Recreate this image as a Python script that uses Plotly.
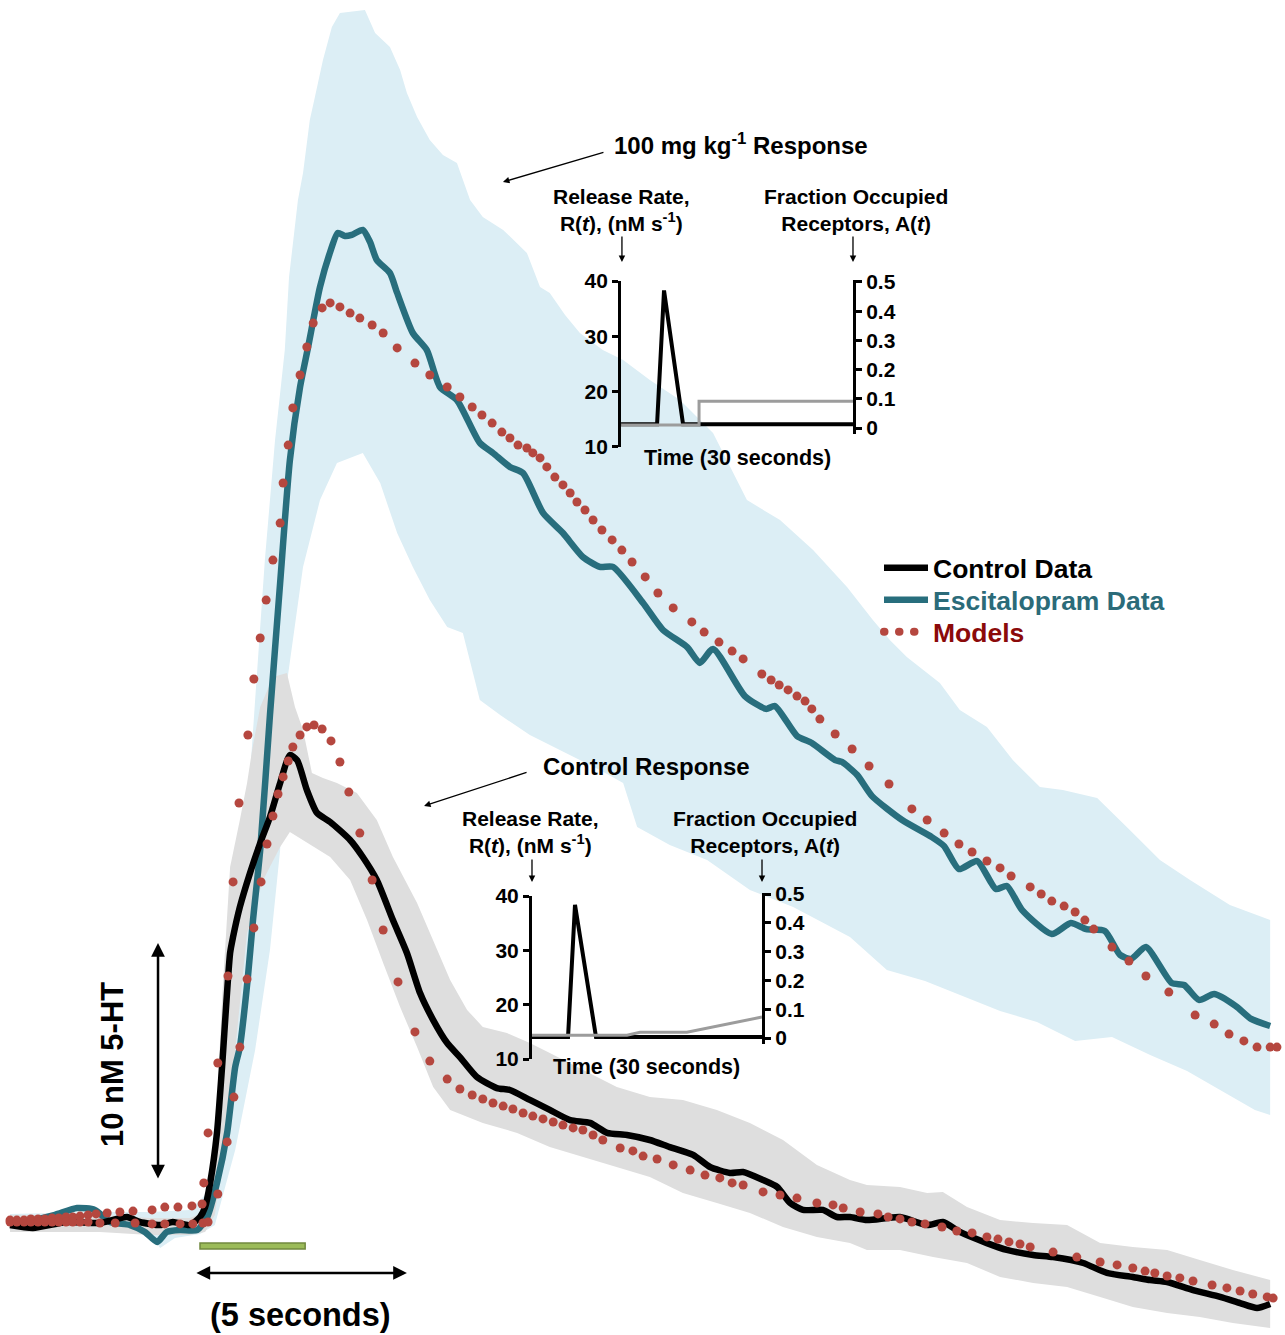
import plotly.graph_objects as go

# ---------------- main traces (time in s, concentration in nM) ----------------
ctrl_t = [-4.48, -3.94, -3.14, -2.36, -1.72, -1.42, -0.94, -0.64, -0.24, 0.00, 0.12, 0.24, 0.40, 0.52, 0.71, 0.78,
          0.94, 1.18, 1.42, 1.65, 1.89, 2.12, 2.29, 2.52, 2.76, 3.07, 3.54, 3.84, 4.17, 4.55, 4.88, 5.19, 5.50,
          5.83, 6.13, 6.53, 7.00, 7.31, 7.78, 8.25, 8.73, 9.20, 9.60, 10.07, 10.61, 11.08, 11.63, 12.03, 12.50,
          12.81, 13.28, 13.61, 13.92, 14.22, 14.69, 15.02, 15.33, 15.73, 16.51, 17.15, 17.52, 17.92, 18.56,
          19.03, 19.65, 20.12, 20.83, 21.39, 22.00, 22.41, 22.81, 23.42, 24.06, 24.53, 24.93, 25.24]
ctrl_c = [-0.13, -0.25, 0.00, -0.04, 0.21, 0.00, -0.13, 0.00, -0.13, 0.21, 0.63, 1.65, 3.76, 6.54, 11.35, 12.03,
          13.29, 14.73, 15.99, 17.09, 18.52, 19.70, 19.49, 18.23, 17.26, 16.88, 16.12, 15.40, 14.43, 12.74, 11.35,
          9.66, 8.52, 7.55, 6.96, 6.12, 5.65, 5.57, 5.15, 4.73, 4.30, 4.18, 3.76, 3.67, 3.46, 3.16, 2.83, 2.32,
          2.07, 2.11, 1.77, 1.48, 0.80, 0.51, 0.51, 0.21, 0.21, 0.08, 0.21, -0.13, 0.00, -0.42, -0.89, -1.18,
          -1.39, -1.48, -1.73, -2.15, -2.32, -2.45, -2.53, -2.87, -3.16, -3.42, -3.63, -3.46]

esc_t = [-4.48, -3.94, -3.42, -2.90, -2.48, -2.12, -1.65, -1.30, -1.01, -0.78, -0.47, -0.07, 0.17, 0.40, 0.64,
         0.83, 0.94, 1.13, 1.25, 1.42, 1.65, 1.89, 2.12, 2.36, 2.55, 2.83, 3.07, 3.25, 3.42, 3.58, 3.84, 4.01,
         4.17, 4.48, 4.65, 5.02, 5.35, 5.66, 6.06, 6.60, 6.91, 7.31, 7.62, 8.09, 8.56, 9.03, 9.43, 9.74, 10.45,
         10.92, 11.49, 11.79, 12.10, 12.85, 13.35, 13.56, 14.08, 14.43, 14.98, 15.14, 15.50, 15.85, 16.56, 17.26,
         17.55, 17.90, 18.33, 18.77, 19.03, 19.39, 20.09, 20.54, 20.90, 21.34, 21.70, 21.96, 22.31, 22.92, 23.21,
         23.56, 23.92, 24.43, 24.79, 25.24]
esc_c = [0.00, 0.08, 0.30, 0.59, 0.51, 0.00, -0.13, -0.42, -0.84, -0.42, -0.34, -0.34, 0.21, 1.65, 3.76, 6.54,
         7.38, 10.34, 12.74, 15.70, 21.39, 26.96, 32.15, 35.23, 36.92, 39.45, 40.93, 41.73, 41.60, 41.65, 41.86,
         41.35, 40.59, 40.04, 39.20, 37.51, 36.79, 35.23, 34.68, 32.87, 32.45, 31.86, 31.60, 29.92, 29.07, 28.06,
         27.64, 27.64, 26.12, 24.98, 24.26, 23.59, 24.18, 22.19, 21.65, 21.77, 20.51, 20.21, 19.49, 19.41, 18.86,
         17.97, 16.96, 16.24, 15.86, 14.89, 15.23, 14.05, 14.18, 13.16, 12.15, 12.62, 12.36, 12.28, 11.27, 11.10,
         11.60, 10.08, 10.00, 9.37, 9.62, 9.11, 8.57, 8.27]

esc_model_t = [-4.48, -4.32, -4.15, -3.99, -3.82, -3.66, -3.49, -3.33, -3.16, -3.00, -2.83, -2.64, -2.45, -2.19,
               -1.89, -1.58, -1.13, -0.83, -0.52, -0.19, 0.05, 0.09, 0.19, 0.42, 0.66, 0.78, 0.92, 1.13, 1.27,
               1.42, 1.56, 1.72, 1.89, 1.96, 2.08, 2.19, 2.36, 2.52, 2.67, 2.88, 3.07, 3.30, 3.54, 3.77, 4.06,
               4.32, 4.65, 5.07, 5.42, 5.83, 6.13, 6.42, 6.65, 6.89, 7.12, 7.31, 7.50, 7.71, 7.85, 8.02, 8.18,
               8.37, 8.56, 8.73, 8.89, 9.08, 9.27, 9.48, 9.72, 9.95, 10.19, 10.50, 10.80, 11.16, 11.60, 11.89,
               12.24, 12.55, 12.81, 13.25, 13.47, 13.66, 13.87, 14.08, 14.27, 14.43, 14.62, 14.98, 15.38, 15.78,
               16.25, 16.79, 17.15, 17.55, 17.90, 18.21, 18.56, 18.87, 19.13, 19.58, 19.84, 20.09, 20.38, 20.64,
               20.87, 21.08, 21.51, 21.91, 22.31, 22.85, 23.47, 23.92, 24.27, 24.62, 24.93, 25.24, 25.40]
esc_model_c = [0.08, 0.08, 0.08, 0.13, 0.13, 0.13, 0.17, 0.17, 0.21, 0.21, 0.25, 0.30, 0.34, 0.38, 0.42, 0.46,
               0.51, 0.63, 0.63, 0.68, 0.76, 1.65, 3.76, 6.71, 10.38, 14.35, 17.68, 20.55, 22.91, 24.64, 26.24,
               27.93, 29.49, 31.18, 32.78, 34.35, 35.74, 36.92, 37.93, 38.57, 38.78, 38.61, 38.35, 38.14, 37.85,
               37.51, 36.88, 36.24, 35.74, 35.23, 34.81, 34.39, 34.05, 33.71, 33.33, 33.08, 32.78, 32.66, 32.45,
               32.24, 31.86, 31.43, 31.10, 30.76, 30.38, 30.04, 29.62, 29.20, 28.78, 28.35, 27.85, 27.22, 26.54,
               25.91, 25.32, 24.89, 24.47, 24.09, 23.76, 23.12, 22.87, 22.66, 22.45, 22.19, 21.98, 21.65, 21.22,
               20.59, 19.96, 19.24, 18.48, 17.43, 16.96, 16.41, 15.95, 15.61, 15.23, 14.94, 14.60, 14.14, 13.84,
               13.54, 13.33, 13.08, 12.74, 12.36, 11.60, 11.01, 10.38, 9.70, 8.73, 8.35, 7.93, 7.64, 7.38, 7.38,
               7.38]

ctrl_model_t = [-4.48, -4.32, -4.15, -3.99, -3.82, -3.66, -3.49, -3.33, -3.16, -3.00, -2.83, -2.64, -2.36, -2.00,
                -1.53, -1.13, -0.83, -0.47, -0.17, 0.07, 0.19, 0.42, 0.64, 0.80, 0.94, 1.11, 1.27, 1.44, 1.58,
                1.72, 1.84, 1.96, 2.08, 2.19, 2.36, 2.52, 2.69, 2.88, 3.09, 3.30, 3.51, 3.77, 4.06, 4.32, 4.67,
                5.07, 5.42, 5.83, 6.13, 6.42, 6.67, 6.91, 7.15, 7.38, 7.62, 7.85, 8.09, 8.33, 8.56, 8.80, 9.03,
                9.27, 9.50, 9.91, 10.21, 10.45, 10.78, 11.16, 11.56, 11.91, 12.26, 12.55, 12.81, 13.28, 13.68,
                14.08, 14.55, 14.93, 15.17, 15.57, 15.99, 16.23, 16.51, 16.79, 17.10, 17.50, 17.85, 18.21, 18.56,
                18.82, 19.08, 19.34, 19.58, 20.12, 20.68, 21.23, 21.63, 22.00, 22.29, 22.52, 22.81, 23.11, 23.42,
                23.87, 24.22, 24.53, 24.83, 25.17, 25.31]
ctrl_model_c = [0.00, 0.00, 0.00, 0.00, 0.00, 0.00, 0.00, 0.00, 0.00, 0.00, 0.00, 0.00, -0.04, -0.04, -0.04,
                -0.08, -0.08, -0.08, -0.08, -0.04, 0.00, 1.18, 3.38, 5.27, 7.38, 10.25, 12.41, 14.35, 15.95, 17.13,
                18.06, 18.78, 19.45, 20.04, 20.55, 20.89, 20.97, 20.80, 20.30, 19.41, 18.14, 16.41, 14.43, 12.32,
                10.13, 8.02, 6.79, 6.03, 5.61, 5.36, 5.19, 5.02, 4.89, 4.77, 4.60, 4.47, 4.35, 4.22, 4.09, 3.97,
                3.88, 3.67, 3.46, 3.12, 3.00, 2.78, 2.66, 2.41, 2.19, 1.98, 1.86, 1.65, 1.56, 1.27, 1.14, 1.01,
                0.80, 0.72, 0.59, 0.42, 0.34, 0.21, 0.13, 0.00, -0.08, -0.21, -0.38, -0.46, -0.63, -0.72, -0.84,
                -0.93, -1.05, -1.27, -1.48, -1.69, -1.81, -1.94, -2.07, -2.15, -2.28, -2.36, -2.49, -2.66, -2.78,
                -2.91, -3.04, -3.16, -3.21]

# ---------------- variability bands ----------------
esc_hi_t = [-4.48, -2.36, -1.18, -0.24, 0.24, 0.59, 0.83, 1.06, 1.30, 1.53, 1.77, 2.00, 2.10, 2.31, 2.43, 2.59,
            2.71, 2.90, 3.11, 3.30, 3.89, 4.13, 4.48, 4.72, 4.88, 5.12, 5.42, 5.73, 6.06, 6.37, 6.67, 7.15, 7.71,
            8.02, 8.25, 8.61, 8.96, 9.50, 9.98, 10.61, 11.32, 12.10, 12.90, 13.68, 14.46, 15.26, 15.87, 16.27,
            16.67, 17.45, 17.92, 18.56, 19.17, 19.81, 20.35, 21.16, 21.93, 22.64, 23.35, 24.29, 25.24]
esc_hi_c = [0.34, 0.42, 0.42, 0.51, 1.35, 5.15, 11.48, 15.70, 22.03, 27.93, 33.00, 36.79, 39.87, 43.12, 44.26,
            46.50, 47.47, 49.03, 50.42, 51.01, 51.14, 50.17, 49.58, 48.61, 47.64, 46.62, 45.65, 45.02, 44.68,
            43.12, 42.41, 41.86, 40.89, 39.45, 39.20, 38.27, 37.51, 36.79, 36.37, 35.53, 34.68, 33.29, 30.46,
            29.62, 28.35, 26.79, 25.40, 24.56, 23.84, 22.74, 21.60, 20.89, 19.49, 18.35, 18.23, 17.89, 16.54,
            15.27, 14.43, 13.38, 12.74]
esc_lo_t = [-4.48, -2.36, -1.18, -0.94, -0.59, 0.00, 0.35, 0.83, 1.30, 1.65, 1.89, 2.00, 2.05, 2.43, 2.83, 3.23,
            3.84, 4.25, 4.65, 5.02, 5.42, 5.83, 6.20, 6.60, 7.08, 7.78, 8.49, 9.43, 9.98, 10.31, 11.08, 11.96,
            12.97, 13.99, 15.33, 16.20, 17.10, 17.97, 18.87, 19.74, 20.64, 21.51, 22.41, 23.28, 24.06, 24.88, 25.24]
esc_lo_c = [-0.25, -0.34, -0.55, -1.10, -0.68, -0.51, -0.13, 3.04, 7.26, 11.48, 15.70, 19.92, 22.74, 27.64, 30.46,
            32.03, 32.45, 31.18, 29.07, 27.64, 26.24, 25.11, 24.85, 22.03, 21.39, 20.55, 19.92, 19.07, 18.52, 16.67,
            15.91, 15.27, 14.01, 13.29, 12.03, 10.63, 10.17, 9.54, 8.90, 8.44, 7.64, 7.81, 7.05, 6.37, 5.57, 4.73,
            4.51]

ctrl_hi_t = [-4.48, -2.36, -1.18, -0.24, 0.12, 0.35, 0.52, 0.71, 0.94, 1.11, 1.23, 1.42, 1.72, 2.05, 2.24, 2.43,
             2.64, 2.90, 3.23, 3.70, 4.17, 4.55, 5.12, 5.50, 5.90, 6.30, 6.67, 7.24, 7.78, 8.25, 9.03, 9.83, 10.61,
             11.39, 12.19, 12.97, 13.75, 14.55, 15.33, 15.73, 16.51, 17.15, 17.52, 18.09, 18.87, 19.65, 20.45,
             21.23, 22.00, 22.81, 23.58, 24.36, 25.24]
ctrl_hi_c = [0.30, 0.30, 0.17, 0.17, 0.42, 3.04, 9.37, 14.98, 16.96, 18.52, 19.92, 21.73, 23.00, 23.16, 21.73,
             20.76, 18.95, 18.73, 18.52, 18.10, 16.96, 15.40, 13.46, 11.90, 10.21, 8.95, 8.23, 7.97, 7.55, 7.13,
             6.41, 5.70, 5.27, 5.15, 4.73, 4.18, 3.46, 2.41, 1.77, 1.56, 1.48, 1.22, 1.27, 0.63, 0.08, -0.04,
             -0.13, -0.89, -1.05, -1.18, -1.60, -2.03, -2.45]
ctrl_lo_t = [-4.48, -2.36, -1.18, -0.24, 0.12, 0.35, 0.71, 1.11, 1.49, 1.89, 2.12, 3.07, 3.54, 3.94, 4.32, 4.72,
             5.12, 5.50, 5.90, 6.67, 7.48, 8.25, 9.03, 9.83, 10.61, 11.39, 12.19, 12.97, 13.75, 14.55, 15.33,
             15.73, 16.51, 17.29, 18.09, 18.87, 19.65, 20.45, 21.23, 22.00, 22.81, 23.58, 24.36, 25.24]
ctrl_lo_c = [-0.42, -0.42, -0.55, -0.55, -0.42, 0.30, 5.15, 12.19, 14.43, 15.82, 16.46, 15.40, 14.43, 12.74,
             10.93, 9.07, 7.38, 5.70, 4.73, 4.18, 3.76, 3.16, 2.74, 2.32, 1.90, 1.22, 0.80, 0.38, -0.21, -0.63,
             -0.89, -1.18, -1.18, -1.48, -1.73, -2.32, -2.57, -2.74, -3.16, -3.59, -3.84, -4.01, -4.26, -4.47]

# ---------------- insets: release rate R(t) and occupied receptors A(t) ----------------
hi_R_t = [0, 4.66, 5.56, 8.02, 30]
hi_R = [14.1, 14.1, 38.3, 14.1, 14.1]
hi_A_t = [0, 10.09, 10.09, 30]
hi_A = [0.01, 0.01, 0.092, 0.092]

ct_R_t = [0, 4.70, 5.61, 8.35, 30]
ct_R = [14.05, 14.05, 38.4, 14.05, 14.05]
ct_A_t = [0, 12.39, 14.09, 20.20, 30]
ct_A = [0.01, 0.01, 0.02, 0.02, 0.073]

R_ticks = [10, 20, 30, 40]
A_ticks = [0, 0.1, 0.2, 0.3, 0.4, 0.5]
A_ticktext = ["0", "0.1", "0.2", "0.3", "0.4", "0.5"]

FONT = "Liberation Sans, Arial, sans-serif"
TEAL = "#286e7d"
DOT = "#b5473f"

fig = go.Figure()

# bands
fig.add_trace(go.Scatter(x=esc_hi_t + esc_lo_t[::-1], y=esc_hi_c + esc_lo_c[::-1], fill="toself",
                         fillcolor="#dceef5", line=dict(width=0), mode="lines", showlegend=False,
                         hoverinfo="skip"))
fig.add_trace(go.Scatter(x=ctrl_hi_t + ctrl_lo_t[::-1], y=ctrl_hi_c + ctrl_lo_c[::-1], fill="toself",
                         fillcolor="#dedede", line=dict(width=0), mode="lines", showlegend=False,
                         hoverinfo="skip"))
# data lines
fig.add_trace(go.Scatter(x=esc_t, y=esc_c, mode="lines",
                         line=dict(color=TEAL, width=6.5, shape="spline", smoothing=0.6),
                         name='<span style="color:#2b6b79">Escitalopram Data</span>', legend="legend2"))
fig.add_trace(go.Scatter(x=ctrl_t, y=ctrl_c, mode="lines",
                         line=dict(color="black", width=6.5, shape="spline", smoothing=0.6),
                         name="Control Data", legend="legend"))
# model dots
fig.add_trace(go.Scatter(x=esc_model_t, y=esc_model_c, mode="markers",
                         marker=dict(color=DOT, size=9), showlegend=False))
fig.add_trace(go.Scatter(x=ctrl_model_t, y=ctrl_model_c, mode="markers",
                         marker=dict(color=DOT, size=9), showlegend=False))
# legend entry for the models (dotted)
fig.add_trace(go.Scatter(x=[None], y=[None], mode="lines",
                         line=dict(color=DOT, width=8, dash="0.5px,14.5px"),
                         name='<span style="color:#8b0a0a">Models</span>', legend="legend3"))

# inset 1 (100 mg/kg)
fig.add_trace(go.Scatter(x=hi_R_t, y=hi_R, xaxis="x2", yaxis="y2", mode="lines",
                         line=dict(color="black", width=4), showlegend=False))
fig.add_trace(go.Scatter(x=hi_A_t, y=hi_A, xaxis="x2", yaxis="y3", mode="lines",
                         line=dict(color="#9c9c9c", width=3), showlegend=False))
# inset 2 (control)
fig.add_trace(go.Scatter(x=ct_R_t, y=ct_R, xaxis="x3", yaxis="y4", mode="lines",
                         line=dict(color="black", width=4), showlegend=False))
fig.add_trace(go.Scatter(x=ct_A_t, y=ct_A, xaxis="x3", yaxis="y5", mode="lines",
                         line=dict(color="#9c9c9c", width=3), showlegend=False))

tickfont = dict(family=FONT, size=21, color="black", weight="bold")
yax_common = dict(showline=True, linewidth=3, linecolor="black", ticks="outside", ticklen=6, tickwidth=3,
                  tickcolor="black", showgrid=False, zeroline=False, tickfont=tickfont, fixedrange=True,
                  automargin=False)

W, H = 1285, 1335
legfont = dict(family=FONT, size=26.5, color="black", weight="bold")
def leg(ypx):
    return dict(x=879 / W, y=1 - ypx / H, xanchor="left", yanchor="middle", bgcolor="rgba(0,0,0,0)",
                font=legfont, itemwidth=44, borderwidth=0)

fig.update_layout(
    width=W, height=H, margin=dict(l=0, r=0, t=0, b=0, pad=0, autoexpand=False),
    paper_bgcolor="white", plot_bgcolor="rgba(0,0,0,0)",
    font=dict(family=FONT, color="black"),
    xaxis=dict(range=[-4.717, 25.590], visible=False, domain=[0, 1]),
    yaxis=dict(range=[-4.768, 51.561], visible=False, domain=[0, 1]),
    xaxis2=dict(domain=[0.4833, 0.6638], range=[0, 30], visible=False, anchor="y2"),
    yaxis2=dict(domain=[0.6652, 0.7895], range=[10, 40], anchor="x2", side="left", tickvals=R_ticks, **yax_common),
    yaxis3=dict(domain=[0.6750, 0.7899], range=[-0.02, 0.505], anchor="x2", side="right", tickvals=A_ticks,
                ticktext=A_ticktext, **yax_common),
    xaxis3=dict(domain=[0.4140, 0.5930], range=[0, 30], visible=False, anchor="y4"),
    yaxis4=dict(domain=[0.2067, 0.3288], range=[10, 40], anchor="x3", side="left", tickvals=R_ticks, **yax_common),
    yaxis5=dict(domain=[0.2181, 0.3314], range=[-0.02, 0.505], anchor="x3", side="right", tickvals=A_ticks,
                ticktext=A_ticktext, **yax_common),
    legend=leg(568), legend2=leg(600), legend3=leg(632),
    showlegend=True,
)

# stimulation bar
fig.add_shape(type="rect", xref="x", yref="y", x0=0, x1=2.48, y0=-1.14, y1=-0.89,
              fillcolor="#9bbb59", line=dict(color="#71893f", width=1.5))

ann = []
def txt(s, x, y, size, angle=0):
    ann.append(dict(text=s, x=x, y=y, xref="paper", yref="paper", showarrow=False, xanchor="center",
                    yanchor="middle", textangle=angle, font=dict(family=FONT, size=size, color="black")))

txt("<b>100 mg kg<sup>-1</sup> Response</b>", 0.5767, 0.8921, 24)
txt("<b>Control Response</b>", 0.5035, 0.4262, 24)
txt("<b>Release Rate,<br>R(<i>t</i>), (nM s<sup>-1</sup>)</b>", 0.4840, 0.8427, 21)
txt("<b>Fraction Occupied<br>Receptors, A(<i>t</i>)</b>", 0.6661, 0.8427, 21)
txt("<b>Time (30 seconds)</b>", 0.5743, 0.6569, 21.5)
txt("<b>Release Rate,<br>R(<i>t</i>), (nM s<sup>-1</sup>)</b>", 0.4132, 0.3768, 21)
txt("<b>Fraction Occupied<br>Receptors, A(<i>t</i>)</b>", 0.5953, 0.3768, 21)
txt("<b>Time (30 seconds)</b>", 0.5035, 0.2007, 21.5)
txt("<b>10 nM 5-HT</b>", 0.0872, 0.2022, 31, -90)
txt("<b>(5 seconds)</b>", 0.2335, 0.0150, 32.5)

def arrow(x, y, ax, ay, width=1.3, size=1.0):
    ann.append(dict(text="", x=x, y=y, xref="paper", yref="paper", ax=ax, ay=ay, showarrow=True,
                    arrowhead=2, arrowsize=size, arrowwidth=width, arrowcolor="black"))

arrow(0.3914, 0.8637, 102, -30)
arrow(0.3300, 0.3963, 104, -34)
arrow(0.4840, 0.8037, 0, -27)
arrow(0.6638, 0.8037, 0, -27)
arrow(0.4140, 0.3393, 0, -24)
arrow(0.5930, 0.3393, 0, -24)

# scale bars (10 nM and 5 s)
ann.append(dict(text="", x=-0.99, y=11.77, ax=-0.99, ay=1.77, xref="x", yref="y", axref="x", ayref="y",
                showarrow=True, arrowside="end+start", arrowhead=2, startarrowhead=2, arrowsize=1.1,
                startarrowsize=1.1, arrowwidth=2.5, arrowcolor="black"))
ann.append(dict(text="", x=4.88, y=-2.15, ax=-0.12, ay=-2.15, xref="x", yref="y", axref="x", ayref="y",
                showarrow=True, arrowside="end+start", arrowhead=2, startarrowhead=2, arrowsize=1.1,
                startarrowsize=1.1, arrowwidth=2.5, arrowcolor="black"))
fig.update_layout(annotations=ann)

post = """
(function(){
  document.documentElement.style.margin = '0';
  document.body.style.margin = '0';
  document.body.style.overflow = 'hidden';
  function fix(){
    document.querySelectorAll('.legend path.js-line, g[class^="legend"] path.js-line').forEach(function(p){
      var d = p.style.strokeDasharray;
      if(d && d !== 'none' && d !== ''){ p.style.strokeLinecap = 'round'; }
    });
  }
  fix(); setTimeout(fix, 50); setTimeout(fix, 300);
})();
"""
fig.write_html("out.html", post_script=post, config={"displayModeBar": False})
